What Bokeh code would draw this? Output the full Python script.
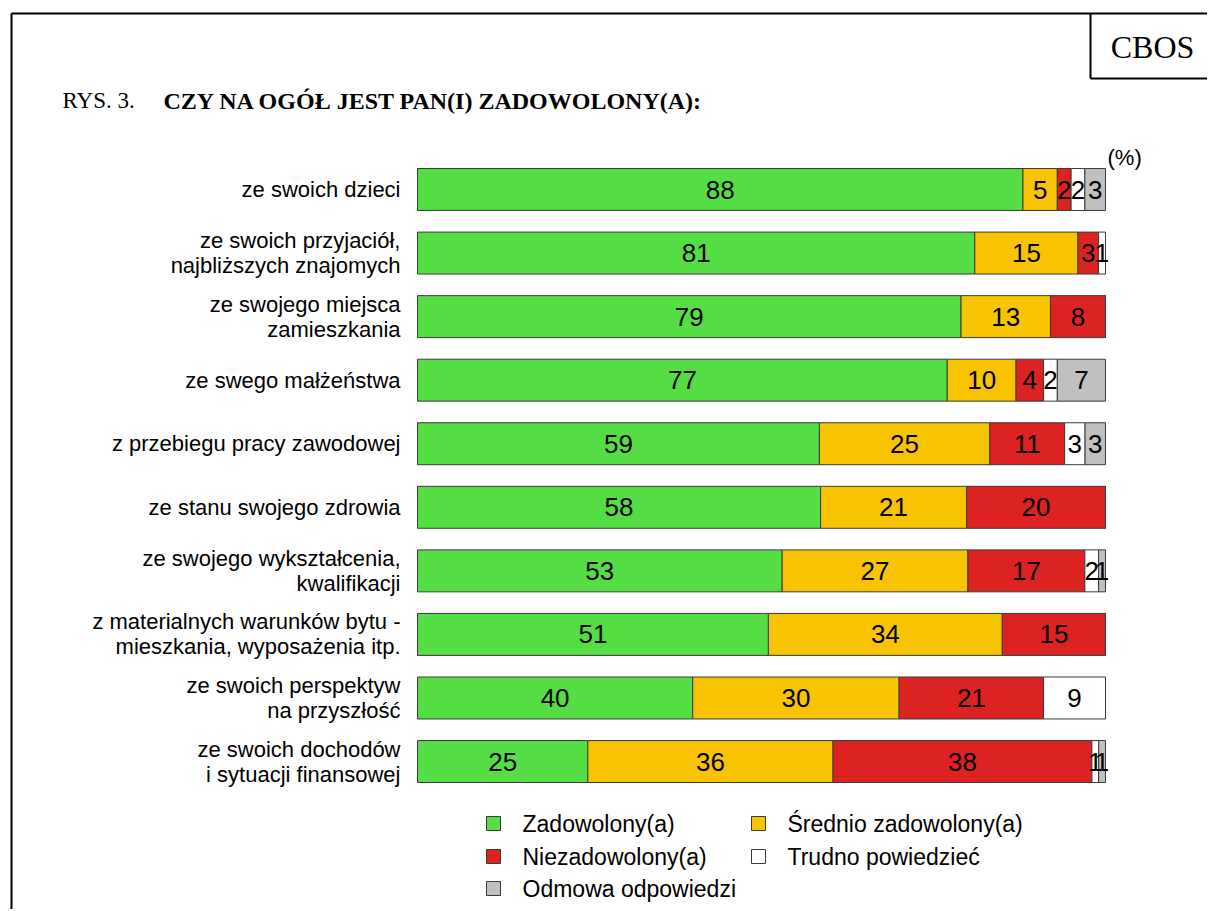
from bokeh.plotting import figure
from bokeh.models import Range1d, Label, ColumnDataSource
from bokeh.core.properties import value
from bokeh.embed import file_html
from bokeh.resources import INLINE

categories = [
    "ze swoich dzieci",
    "ze swoich przyjaciół,\nnajbliższych znajomych",
    "ze swojego miejsca\nzamieszkania",
    "ze swego małżeństwa",
    "z przebiegu pracy zawodowej",
    "ze stanu swojego zdrowia",
    "ze swojego wykształcenia,\nkwalifikacji",
    "z materialnych warunków bytu -\nmieszkania, wyposażenia itp.",
    "ze swoich perspektyw\nna przyszłość",
    "ze swoich dochodów\ni sytuacji finansowej",
]
zadowolony = [88, 81, 79, 77, 59, 58, 53, 51, 40, 25]
srednio = [5, 15, 13, 10, 25, 21, 27, 34, 30, 36]
niezadowolony = [2, 3, 8, 4, 11, 20, 17, 15, 21, 38]
trudno = [2, 1, 0, 2, 3, 0, 2, 0, 9, 1]
odmowa = [3, 0, 0, 7, 3, 0, 1, 0, 0, 1]

series_names = ["Zadowolony(a)", "Średnio zadowolony(a)", "Niezadowolony(a)",
                "Trudno powiedzieć", "Odmowa odpowiedzi"]
series = [zadowolony, srednio, niezadowolony, trudno, odmowa]
colors = ["#55DD44", "#F8C300", "#DD2222", "#FFFFFF", "#C0C0C0"]

# page-pixel helpers for decorations
X0, PPU = 417.0, 6.88
Y0, RS = 189.0, 63.56
def dx(px):
    return (px - X0) / PPU
def dy(py):
    return -(py - Y0) / RS

W, H = 1207, 909
p = figure(width=W, height=H, output_backend="svg", toolbar_location=None,
           x_axis_type=None, y_axis_type=None, min_border=0,
           x_range=Range1d(dx(0), dx(W)), y_range=Range1d(dy(H), dy(0)))
p.grid.visible = False
p.outline_line_color = None
p.background_fill_color = "white"
p.border_fill_color = "white"

SANS = "Liberation Sans"
SERIF = "Liberation Serif"

n = len(categories)
ys = [-i for i in range(n)]
totals = [sum(s[i] for s in series) for i in range(n)]
cum = [0.0] * n
lx, ly, lt = [], [], []
for s, c in zip(series, colors):
    left = cum[:]
    right = [cum[i] + 100.0 * s[i] / totals[i] for i in range(n)]
    src = ColumnDataSource(dict(y=ys, left=left, right=right))
    p.hbar(y="y", left="left", right="right", height=0.66, source=src,
           fill_color=c, line_color="#3a3a3a", line_width=1)
    for i in range(n):
        if s[i] > 0:
            lx.append((left[i] + right[i]) / 2)
            ly.append(ys[i])
            lt.append(str(s[i]))
    cum = right

p.text(x=lx, y=ly, text=lt, text_align="center", text_baseline="middle",
       text_font=value(SANS), text_font_size=value("26px"), text_color="black")

# category labels
p.text(x=[dx(400)] * n, y=ys, text=categories, text_align="right",
       text_baseline="middle", text_font=value(SANS), text_font_size=value("22px"),
       text_line_height=1.0, text_color="black")

# (%)
p.add_layout(Label(x=dx(1107), y=dy(157), text="(%)", text_font=SANS,
                   text_font_size="22px", text_baseline="middle", text_align="left",
                   text_color="black"))

# title
p.add_layout(Label(x=dx(62), y=dy(100), text="RYS. 3.", text_font=SERIF,
                   text_font_size="23px", text_baseline="middle", text_color="black"))
p.add_layout(Label(x=dx(163), y=dy(100), text="CZY NA OGÓŁ JEST PAN(I) ZADOWOLONY(A):",
                   text_font=SERIF, text_font_size="24px", text_font_style="bold",
                   text_baseline="middle", text_color="black"))
p.add_layout(Label(x=dx(1152), y=dy(46), text="CBOS", text_font=SERIF,
                   text_font_size="32px", text_baseline="middle", text_align="center",
                   text_color="black"))

# frame lines
p.segment(x0=[dx(11), dx(11), dx(1090), dx(1090)],
          y0=[dy(13), dy(13), dy(13), dy(78)],
          x1=[dx(11), dx(1209), dx(1090), dx(1209)],
          y1=[dy(911), dy(13), dy(78), dy(78)],
          line_color="black", line_width=2)

# legend
leg_pos = [(493, 823), (758, 823), (493, 856), (758, 856), (493, 888)]
for (px_, py_), name, c in zip(leg_pos, series_names, colors):
    p.scatter(x=[dx(px_)], y=[dy(py_)], marker="square", size=14,
              fill_color=c, line_color="#3a3a3a", line_width=1)
    p.text(x=[dx(px_ + 29)], y=[dy(py_)], text=[name], text_align="left",
           text_baseline="middle", text_font=value(SANS),
           text_font_size=value("23px"), text_color="black")

open("out.html", "w").write(file_html(p, INLINE))
